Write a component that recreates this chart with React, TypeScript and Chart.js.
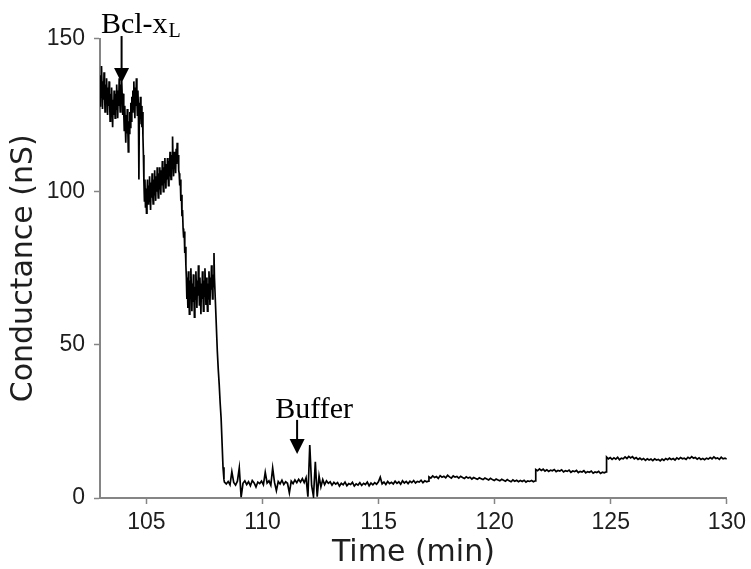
import React, { useEffect, useRef } from "react";
import { Chart, registerables } from "chart.js";

Chart.register(...registerables);

// ---------- axis ticks ----------
const xTicks = [105, 110, 115, 120, 125, 130];
const yTicks = [0, 50, 100, 150];

// ---------- recording, read segment by segment (time in min, conductance in nS) ----------
const segStart = [103.0, 104.87, 106.41, 106.72, 107.93, 108.36, 117.17, 121.77, 124.82];
const segEnd = [104.85, 106.39, 106.7, 107.91, 108.34, 117.15, 121.75, 124.8, 130.0];

const segA = [
  128, 138, 131, 141, 134, 127, 136, 130, 139, 133, 126, 135, 129, 137, 131,
  125, 134, 128, 136, 130, 123, 132, 126, 134, 127, 121, 130, 125, 133, 128,
  124, 132, 127, 135, 130, 124, 133, 128, 137, 131, 126, 135, 129, 136, 131,
  125, 132, 126, 120, 128, 122, 116, 125, 119, 127, 121, 113, 123, 119,
  126, 121, 129, 123, 131, 126, 133, 127, 136, 129, 124, 134, 128, 137, 130,
  125, 133, 127, 104, 129, 122, 131, 124, 128, 121, 126, 118,
];
const segB = [
  112, 103, 97, 104, 95, 101, 93, 99, 104, 96, 102, 97, 105, 99, 94, 103,
  98, 106, 100, 96, 104, 99, 107, 101, 97, 105, 100, 108, 102, 98, 106,
  101, 108, 103, 99, 107, 102, 110, 104, 100, 108, 103, 111, 105, 101, 109,
  104, 111, 106, 102, 110, 105, 113, 107, 104, 112, 108, 118, 109, 105, 113, 108,
  111, 106, 114, 109, 116, 110, 112, 107,
];
const segC = [106, 102, 104, 97, 99, 92, 94, 88, 85, 87, 80, 82, 76];
const segD = [
  72, 65, 70, 62, 74, 67, 60, 71, 66, 75,
  68, 61, 70, 64, 73, 67, 59, 69, 65, 74,
  68, 62, 71, 66, 76, 69, 63, 72, 66, 60,
  70, 65, 74, 68, 61, 71, 66, 75, 69, 63,
  72, 67, 61, 70, 65, 74, 69, 63, 72, 68,
  76, 70, 65, 73, 69, 80,
];
const segE = [72, 64, 56, 48, 42, 37, 31, 26, 18, 10, 6];
const segF = [
  5.2, 4.6, 5.4, 4.3, 8.6, 5.1, 4.2, 5.5, 9.8, 0.3,
  4.8, 5.6, 4.4, 5.3, 4.0, 5.7, 4.9, 3.6, 5.2, 4.7,
  5.5, 4.3, 8.4, 4.9, 5.6, 4.2, 9.8, 5.1, 2.4, 5.4,
  4.6, 5.8, 4.4, 5.3, 4.8, 1.7, 5.5, 4.7, 5.9, 5.0,
  6.1, 5.2, 6.3, 5.0, 6.6, 0.4, 17.3, 4.1, 0.5, 11.8,
  0.4, 7.2, 3.6, 6.0, 4.4, 5.6, 4.8, 5.3, 4.2, 5.1,
  4.5, 5.0, 3.9, 4.8, 4.3, 5.2, 4.0, 4.7, 4.4, 5.1,
  3.9, 4.6, 4.2, 5.0, 4.1, 4.8, 4.4, 5.2, 4.0, 4.9,
  4.3, 5.0, 4.5, 5.3, 6.8, 4.6, 5.2, 4.4, 5.4, 4.7,
  5.1, 4.6, 5.5, 4.8, 5.3, 4.5, 5.6, 4.9, 5.4, 4.7,
  5.5, 5.0, 5.7, 4.9, 5.4, 5.2, 5.8, 5.0, 5.6, 5.3, 5.5,
];
const segG = [
  6.9, 6.5, 7.2, 6.7, 7.0, 6.4, 7.3, 6.8, 7.1, 6.6, 7.4, 6.9, 6.5, 7.2, 6.8,
  7.0, 6.5, 7.1, 6.7, 6.4, 6.9, 6.5, 6.8, 6.2, 6.7, 6.4, 6.1, 6.6, 6.3, 6.0,
  6.5, 6.2, 5.9, 6.4, 6.0, 5.7, 6.2, 5.9, 5.6, 6.1, 5.8, 5.5, 6.0, 5.6, 5.3,
  5.9, 5.5, 5.8, 5.3, 5.7, 5.4, 5.8, 5.2, 5.6, 5.4, 5.7, 5.3, 5.6,
];
const segH = [
  9.3, 8.9, 9.5, 9.0, 9.4, 8.8, 9.2, 8.7, 9.1, 8.9, 9.3, 8.6, 9.0, 8.8, 9.2,
  8.5, 8.9, 8.7, 9.1, 8.4, 8.8, 8.6, 9.0, 8.3, 8.7, 8.5, 8.9, 8.2, 8.6, 8.4,
  8.8, 8.1, 8.5, 8.3, 8.7, 8.0, 8.4, 8.2, 8.5,
];
const segI = [
  13.4, 12.8, 13.2, 12.6, 13.1, 12.7, 13.3, 12.5, 13.0, 12.8, 13.4, 12.9, 13.6,
  13.1, 13.5, 12.8, 13.2, 12.6, 13.0, 12.5, 12.9, 12.3, 12.8, 12.4, 12.7, 12.2,
  12.8, 12.4, 12.6, 12.1, 12.7, 12.3, 12.9, 12.5, 13.0, 12.6, 12.9, 12.4, 13.1,
  12.7, 13.2, 12.8, 13.0, 12.6, 13.3, 12.9, 13.5, 13.0, 13.2, 12.7, 13.1, 12.6,
  12.9, 12.5, 13.0, 12.7, 13.2, 12.8, 13.4, 12.9, 13.1, 12.6, 13.3, 12.8, 13.0, 12.7,
];
const segValues = [segA, segB, segC, segD, segE, segF, segG, segH, segI];

// ---------- annotations (data units) ----------
const annotations = [
  { text: "Bcl-x", sub: "L", textX: 103.04, textY: 151.7, arrowX: 103.93, arrowTop: 150.8, arrowTip: 135.5 },
  { text: "Buffer", sub: "", textX: 110.55, textY: 26.1, arrowX: 111.49, arrowTop: 25.5, arrowTip: 14.4 },
];

function buildPoints() {
  const pts: { x: number; y: number }[] = [];
  segValues.forEach((vals, k) => {
    const t0 = segStart[k];
    const t1 = segEnd[k];
    const n = vals.length;
    vals.forEach((v, i) => {
      pts.push({ x: n === 1 ? t0 : t0 + ((t1 - t0) * i) / (n - 1), y: v });
    });
  });
  return pts;
}

const annotationPlugin = {
  id: "arrowLabels",
  afterDatasetsDraw(chart: any) {
    const { ctx, scales } = chart;
    const xs = scales.x;
    const ys = scales.y;
    ctx.save();
    annotations.forEach((a) => {
      const tx = xs.getPixelForValue(a.textX);
      const ty = ys.getPixelForValue(a.textY);
      ctx.fillStyle = "#000";
      ctx.textBaseline = "alphabetic";
      ctx.textAlign = "left";
      ctx.font = "30px 'Liberation Serif', 'Times New Roman', serif";
      ctx.fillText(a.text, tx, ty);
      if (a.sub) {
        const w = ctx.measureText(a.text).width;
        ctx.font = "20px 'Liberation Serif', 'Times New Roman', serif";
        ctx.fillText(a.sub, tx + w + 1, ty + 4);
      }
      const ax = xs.getPixelForValue(a.arrowX);
      const top = ys.getPixelForValue(a.arrowTop);
      const tip = ys.getPixelForValue(a.arrowTip);
      const head = 15;
      ctx.strokeStyle = "#000";
      ctx.lineWidth = 2;
      ctx.beginPath();
      ctx.moveTo(ax, top);
      ctx.lineTo(ax, tip - head + 1);
      ctx.stroke();
      ctx.beginPath();
      ctx.moveTo(ax - 7.5, tip - head);
      ctx.lineTo(ax + 7.5, tip - head);
      ctx.lineTo(ax, tip);
      ctx.closePath();
      ctx.fill();
    });
    ctx.restore();
  },
};

export default function App() {
  const canvasRef = useRef<HTMLCanvasElement | null>(null);

  useEffect(() => {
    document.body.style.margin = "0";
    const canvas = canvasRef.current;
    if (!canvas) return;
    const axisColor = "#858585";
    const labelColor = "#1e1e1e";
    const chart = new Chart(canvas, {
      type: "line",
      data: {
        datasets: [
          {
            data: buildPoints(),
            borderColor: "#000",
            borderWidth: 1.7,
            pointRadius: 0,
            tension: 0,
            fill: false,
          },
        ],
      },
      options: {
        responsive: false,
        animation: false,
        devicePixelRatio: 1,
        layout: { padding: { top: 38.5, right: 22, bottom: 0, left: 0 } },
        plugins: {
          legend: { display: false },
          tooltip: { enabled: false },
        },
        scales: {
          x: {
            type: "linear",
            min: 103,
            max: 130,
            afterBuildTicks: (s: any) => {
              s.ticks = xTicks.map((v) => ({ value: v }));
            },
            afterFit: (s: any) => {
              s.height = 71;
            },
            grid: {
              display: true,
              drawOnChartArea: false,
              drawTicks: true,
              tickLength: 6,
              tickColor: axisColor,
              tickWidth: 1.5,
            },
            border: { display: true, color: axisColor, width: 2 },
            ticks: {
              color: labelColor,
              padding: 5,
              maxRotation: 0,
              autoSkip: false,
              font: { family: "'Liberation Sans', Arial, sans-serif", size: 23 },
            },
            title: {
              display: true,
              text: "Time (min)",
              color: labelColor,
              font: { family: "'DejaVu Sans', Verdana, sans-serif", size: 30, lineHeight: 1 },
              padding: { top: 0, bottom: 1 },
            },
          },
          y: {
            type: "linear",
            min: 0,
            max: 150,
            afterBuildTicks: (s: any) => {
              s.ticks = yTicks.map((v) => ({ value: v }));
            },
            afterFit: (s: any) => {
              s.width = 100;
            },
            grid: {
              display: true,
              drawOnChartArea: false,
              drawTicks: true,
              tickLength: 6,
              tickColor: axisColor,
              tickWidth: 1.5,
            },
            border: { display: true, color: axisColor, width: 2 },
            ticks: {
              color: labelColor,
              padding: 9,
              autoSkip: false,
              font: { family: "'Liberation Sans', Arial, sans-serif", size: 23 },
            },
            title: {
              display: true,
              text: "Conductance (nS)",
              color: labelColor,
              font: { family: "'DejaVu Sans', Verdana, sans-serif", size: 30, lineHeight: 1.2 },
              padding: { top: 6, bottom: 0 },
            },
          },
        },
      },
      plugins: [annotationPlugin],
    } as any);
    return () => chart.destroy();
  }, []);

  return (
    <div style={{ width: 751, height: 569 }}>
      <canvas ref={canvasRef} width={751} height={569} style={{ display: "block" }} />
    </div>
  );
}
